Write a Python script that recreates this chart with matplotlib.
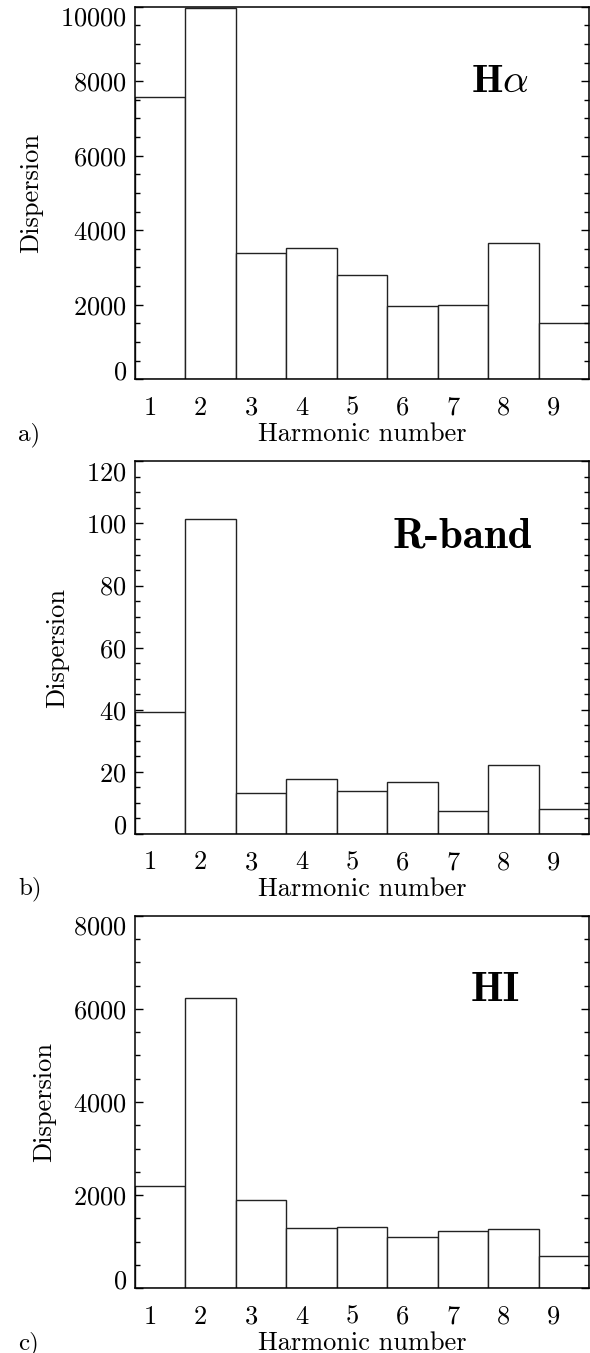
import matplotlib
matplotlib.use('Agg')
import matplotlib.pyplot as plt
import numpy as np
from matplotlib.ticker import MultipleLocator

plt.rcParams['font.family'] = 'cmr10'
plt.rcParams['mathtext.fontset'] = 'cm'
plt.rcParams['axes.formatter.use_mathtext'] = True

# harmonic numbers and dispersions
harm = np.arange(1, 10)
disp_ha = [7580, 9950, 3390, 3510, 2785, 1960, 2005, 3655, 1505]
disp_r = [39.2, 101.5, 13.1, 17.8, 13.9, 16.6, 7.3, 22.3, 8.0]
disp_hi = [2196, 6229, 1902, 1302, 1316, 1094, 1223, 1266, 701]

names = [r'$\mathbf{H}\alpha$', 'R-band', 'HI']
tags = ['a)', 'b)', 'c)']
ymax = [10000, 120, 8000]
ymajor = [2000, 20, 2000]
yminor = [500, 5, 500]
name_pos = [(0.74, 0.77), (0.567, 0.77), (0.74, 0.77)]
name_size = [29, 31, 30]

fig = plt.figure(figsize=(5.9, 13.53), dpi=100)
bottoms = [0.7197, 0.3836, 0.0478]

for k, vals in enumerate([disp_ha, disp_r, disp_hi]):
    ax = fig.add_axes([0.2288, bottoms[k], 0.7695, 0.2754])
    ax.bar(harm, vals, width=1.0, facecolor='white', edgecolor='#222222', linewidth=1.0)
    ax.set_xlim(0.5, 9.5)
    ax.set_ylim(0, ymax[k])
    ax.yaxis.set_major_locator(MultipleLocator(ymajor[k]))
    ax.yaxis.set_minor_locator(MultipleLocator(yminor[k]))
    ax.set_xticks(harm - 0.2)
    ax.set_xticklabels([str(h) for h in harm])
    ax.tick_params(axis='x', length=0, pad=12, labelsize=19)
    ax.tick_params(axis='y', which='both', direction='in', right=True, labelsize=19, pad=6)
    ax.tick_params(axis='y', which='major', length=6, width=1)
    ax.tick_params(axis='y', which='minor', length=3.5, width=1)
    for s in ax.spines.values():
        s.set_linewidth(1.1)
    ax.set_ylabel('Dispersion', fontsize=19, labelpad=12)
    ax.set_xlabel('Harmonic number', fontsize=19, labelpad=2)
    # IDL keeps the end labels inside the axis range
    fig.canvas.draw()
    for t in ax.yaxis.get_major_ticks():
        if abs(t.get_loc()) < 1e-9:
            t.label1.set_va('baseline')
        elif abs(t.get_loc() - ymax[k]) < 1e-9:
            t.label1.set_va('top')
    if k == 0:
        ax.text(name_pos[k][0], name_pos[k][1], names[k], transform=ax.transAxes,
                fontsize=name_size[k], va='baseline')
    else:
        ax.text(name_pos[k][0], name_pos[k][1], names[k], transform=ax.transAxes,
                fontsize=name_size[k], family='cmb10', va='baseline')
    ax.text(-0.258, -0.148, tags[k], transform=ax.transAxes, fontsize=18, va='center')

fig.savefig('out.png', dpi=100)
